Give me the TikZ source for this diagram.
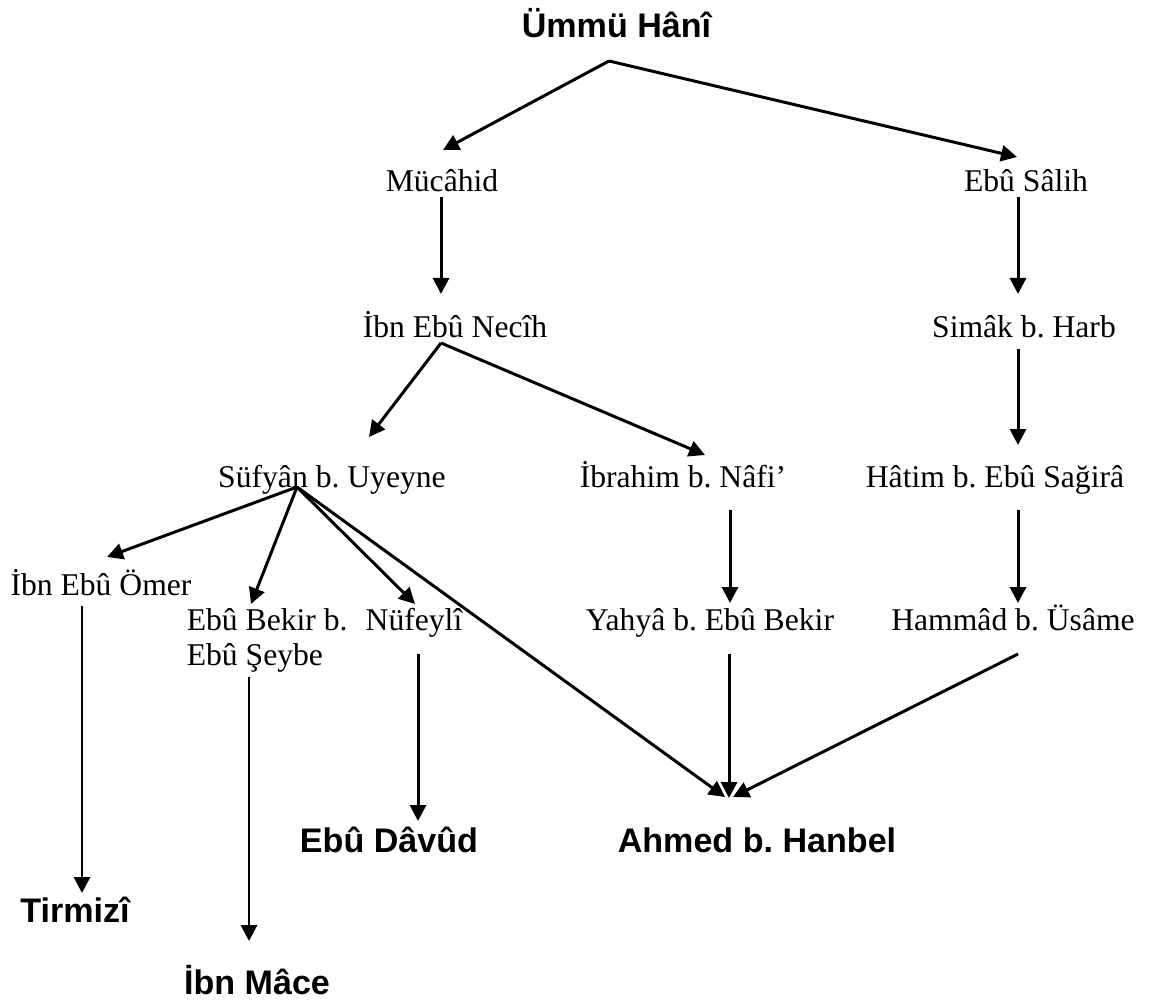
\documentclass[tikz,border=0pt]{standalone}
\usepackage{fontspec}
\setmainfont{Liberation Serif}
\newfontfamily\imamfont{Liberation Sans}
\usepackage{tikz}
\usetikzlibrary{arrows.meta, positioning}
\frenchspacing
\tikzset{
    ravi/.style={inner sep=0pt, anchor=base, font=\fontsize{18pt}{19.9pt}\selectfont},
    musannif/.style={inner sep=0pt, anchor=base, font=\imamfont\bfseries\fontsize{19.4pt}{22pt}\selectfont},
    conn/.style={-{Triangle[length=0.32cm, width=0.32cm]}, line width=1.7pt, black},
}

\begin{document}
\begin{tikzpicture}
    \useasboundingbox (0,0) rectangle (23.16,-20.10);
    % names
    \node [musannif] (umm) at (12.33,-0.76) {Ümmü Hânî};
    \node [ravi] (muc) at (8.84,-3.84) {Mücâhid};
    \node [ravi] (sal) at (20.52,-3.84) {Ebû Sâlih};
    \node [ravi] (nec) at (9.10,-6.76) {İbn Ebû Necîh};
    \node [ravi] (sim) at (20.48,-6.76) {Simâk b. Harb};
    \node [ravi] (suf) at (6.64,-9.74) {Süfyân b. Uyeyne};
    \node [ravi] (ibr) at (13.66,-9.74) {İbrahim b. Nâfi’};
    \node [ravi] (hat) at (19.90,-9.74) {Hâtim b. Ebû Sağirâ};
    \node [ravi] (ome) at (2.02,-11.90) {İbn Ebû Ömer};
    \node [ravi, anchor=base west, align=left] (bek) at (3.73,-13.30) {Ebû Bekir b.\\Ebû Şeybe};
    \node [ravi] (nuf) at (8.28,-12.60) {Nüfeylî};
    \node [ravi] (yah) at (14.20,-12.60) {Yahyâ b. Ebû Bekir};
    \node [ravi] (ham) at (20.26,-12.60) {Hammâd b. Üsâme};
    \node [musannif] (dav) at (7.78,-17.04) {Ebû Dâvûd};
    \node [musannif] (ahm) at (15.14,-17.04) {Ahmed b. Hanbel};
    \node [musannif] (tir) at (1.50,-18.44) {Tirmizî};
    \node [musannif] (mac) at (5.14,-19.88) {İbn Mâce};

    % line ends
    \coordinate (a0) at (12.18,-1.22);
    \coordinate (a1) at (8.86,-3.00);
    \coordinate (a2) at (20.34,-3.14);
    \coordinate (b0) at (8.82,-3.94);
    \coordinate (b1) at (8.82,-5.88);
    \coordinate (c0) at (20.36,-3.94);
    \coordinate (c1) at (20.36,-5.88);
    \coordinate (d0) at (8.82,-6.86);
    \coordinate (d1) at (7.38,-8.74);
    \coordinate (d2) at (14.10,-9.10);
    \coordinate (e0) at (20.36,-6.98);
    \coordinate (e1) at (20.36,-8.90);
    \coordinate (f0) at (5.94,-9.74);
    \coordinate (f1) at (2.14,-11.14);
    \coordinate (f2) at (5.02,-12.08);
    \coordinate (f3) at (8.30,-12.08);
    \coordinate (f4) at (14.50,-15.94);
    \coordinate (g0) at (14.60,-10.20);
    \coordinate (g1) at (14.60,-12.06);
    \coordinate (h0) at (20.36,-10.20);
    \coordinate (h1) at (20.36,-12.06);
    \coordinate (i0) at (1.64,-12.12);
    \coordinate (i1) at (1.64,-17.86);
    \coordinate (j0) at (4.98,-13.54);
    \coordinate (j1) at (4.98,-18.82);
    \coordinate (k0) at (8.36,-13.08);
    \coordinate (k1) at (8.36,-16.42);
    \coordinate (l0) at (14.58,-13.08);
    \coordinate (l1) at (14.58,-15.96);
    \coordinate (m0) at (20.36,-13.08);
    \coordinate (m1) at (14.66,-15.94);

    \draw[conn] (a0) -- (a1);
    \draw[conn] (a0) -- (a2);
    \draw[conn] (b0) -- (b1);
    \draw[conn] (c0) -- (c1);
    \draw[conn] (d0) -- (d1);
    \draw[conn] (d0) -- (d2);
    \draw[conn] (e0) -- (e1);
    \draw[conn] (f0) -- (f1);
    \draw[conn] (f0) -- (f2);
    \draw[conn] (f0) -- (f3);
    \draw[conn] (f0) -- (f4);
    \draw[conn] (g0) -- (g1);
    \draw[conn] (h0) -- (h1);
    \draw[conn] (i0) -- (i1);
    \draw[conn] (j0) -- (j1);
    \draw[conn] (k0) -- (k1);
    \draw[conn] (l0) -- (l1);
    \draw[conn] (m0) -- (m1);
\end{tikzpicture}
\end{document}
